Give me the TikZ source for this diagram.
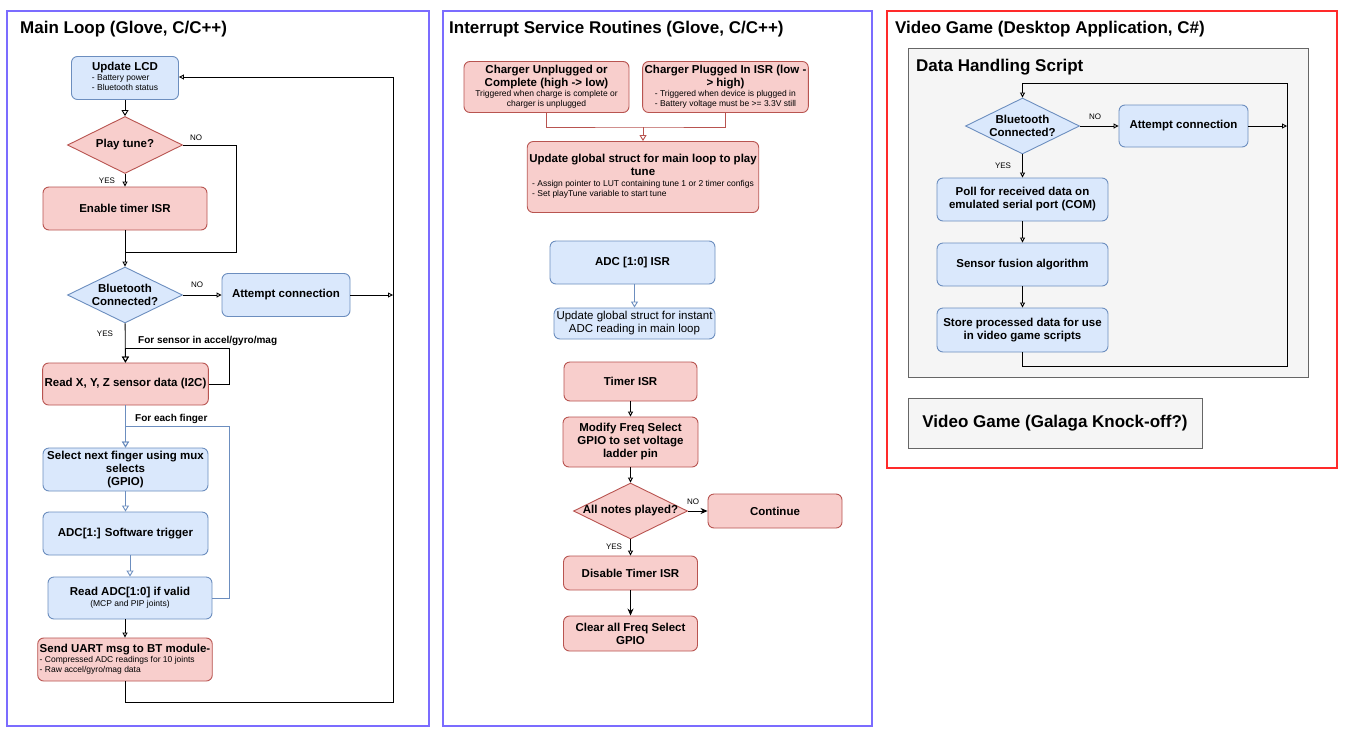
\documentclass[tikz,border=0pt]{standalone}
\usepackage{fontspec}
\setmainfont{Liberation Sans}
\usetikzlibrary{shapes.geometric, arrows.meta}

\definecolor{bluefill}{HTML}{DAE8FC}
\definecolor{blueline}{HTML}{6C8EBF}
\definecolor{redfill}{HTML}{F8CECC}
\definecolor{redline}{HTML}{B85450}
\definecolor{greyfill}{HTML}{F5F5F5}
\definecolor{greyline}{HTML}{666666}
\definecolor{framepurple}{HTML}{7B6CFF}
\definecolor{framered}{HTML}{FF2A2A}

\newcommand{\labfont}{\fontsize{11.5}{13}\selectfont\bfseries}
\newcommand{\notefont}{\fontsize{8.5}{10}\selectfont\mdseries}
\newcommand{\headfont}{\fontsize{17}{20}\selectfont\bfseries}
\newcommand{\yesnofont}{\fontsize{8}{9}\selectfont}
\newcommand{\sublist}[2][l]{{\notefont\begin{tabular}[t]{@{}#1@{}}#2\end{tabular}}}

\begin{document}
\begin{tikzpicture}[x=1pt, y=-1pt,
		flowbox/.style={draw, rounded corners=6pt, line width=0.9pt, inner sep=2pt, align=center, font=\labfont},
		bluebox/.style={flowbox, draw=blueline, fill=bluefill},
		redbox/.style={flowbox, draw=redline, fill=redfill},
		greybox/.style={draw=greyline, fill=greyfill, line width=0.9pt},
		decide/.style={diamond, draw, line width=0.9pt, aspect=2, inner sep=-2pt, align=center, font=\labfont},
		panel/.style={line width=1.2pt},
		heading/.style={anchor=west, inner sep=0pt, font=\headfont},
		yesno/.style={inner sep=0pt, font=\yesnofont},
		looptext/.style={anchor=west, inner sep=0pt, font=\fontsize{10}{12}\selectfont\bfseries},
		wire/.style={draw=black, line width=0.9pt},
		arr/.style={wire, -{Triangle[open, length=6pt, width=7pt]}},
		arrs/.style={wire, -{Triangle[open, length=5pt, width=5pt]}},
		farr/.style={wire, -{Stealth[length=7pt, width=6pt]}},
		barr/.style={arr, draw=blueline},
		rarr/.style={arr, draw=redline}]

	\useasboundingbox (0,0) rectangle (1351,734);
	\fill[white] (0,0) rectangle (1351,734);

	% three panels
	\draw[panel, draw=framepurple] (7,11) rectangle (429,726);
	\draw[panel, draw=framepurple] (443,11) rectangle (872,726);
	\draw[panel, draw=framered] (887,11) rectangle (1337,468);
	\node[heading] (mainhead) at (20,29) {Main Loop (Glove, C/C++)};
	\node[heading] (isrhead) at (449,29) {Interrupt Service Routines (Glove, C/C++)};
	\node[heading] (gamehead) at (895,29) {Video Game (Desktop Application, C\#)};

	% main loop
	\node[bluebox, minimum width=107, minimum height=43] (lcd) at (125,78) {Update LCD\\[-3pt]\sublist{- Battery power\\- Bluetooth status}};
	\node[decide, draw=redline, fill=redfill, minimum width=115, minimum height=57] (tune) at (125,145) {Play tune?};
	\node[redbox, minimum width=164, minimum height=43] (timer) at (125,208.5) {Enable timer ISR};
	\node[decide, draw=blueline, fill=bluefill, minimum width=115, minimum height=56] (bt) at (125,295) {Bluetooth\\Connected?};
	\node[bluebox, minimum width=128, minimum height=43] (attempt) at (286,295) {Attempt connection};
	\node[redbox, minimum width=165, minimum height=42] (xyz) at (125.5,384) {Read X, Y, Z sensor data (I2C)};
	\node[bluebox, minimum width=165, minimum height=43] (finger) at (125.5,469.5) {Select next finger using mux\\selects\\(GPIO)};
	\node[bluebox, minimum width=165, minimum height=43] (trig) at (125.5,533.5) {ADC[1:] Software trigger};
	\node[bluebox, minimum width=164, minimum height=42] (radc) at (130,598) {Read ADC[1:0] if valid\\[-2pt]\sublist[c]{(MCP and PIP joints)}};
	\node[redbox, minimum width=172, minimum height=43, align=left] (uart) at (125,659.5) {Send UART msg to BT module-\\[-3pt]\sublist{- Compressed ADC readings for 10 joints\\- Raw accel/gyro/mag data}};

	\node[yesno] (tuneno) at (196,138) {NO};
	\node[yesno] (tuneyes) at (107,181) {YES};
	\node[yesno] (btno) at (197,285) {NO};
	\node[yesno] (btyes) at (105,334) {YES};
	\node[looptext] (sensortext) at (138,341) {For sensor in accel/gyro/mag};
	\node[looptext] (fingertext) at (135,419) {For each finger};

	\coordinate (tunejoin) at (236,252);
	\coordinate (mainrail) at (393,295);
	\coordinate (mainbot) at (393,702);
	\coordinate (maintop) at (393,77);
	\coordinate (sensorc) at (229,348);
	\coordinate (fingerc) at (229,426);

	\foreach \a/\b in {lcd/tune, bt/xyz} \draw[arr] (\a) -- (\b);
	\foreach \a/\b in {tune/timer, timer/bt} \draw[arrs] (\a) -- (\b);
	\draw[wire] (tune.east) -| (tunejoin) -- (tunejoin -| timer.south); % no tune
	\draw[arrs] (bt) -- (attempt);
	\draw[arrs] (attempt) -- (mainrail);
	\draw[arrs] (uart.south) |- (mainbot) -- (maintop) -- (maintop -| lcd.east); % back to top
	\draw[arr] (xyz.east) -| (sensorc) -| (xyz.north);
	\draw[barr] (xyz) -- (finger);
	\draw[barr] (radc.east) -| (fingerc) -| (finger.north);
	\draw[barr] (finger) -- (trig);
	\draw[barr] (trig.south -| radc.north) -- (radc.north);
	\draw[arrs] (radc.south -| uart.north) -- (uart.north);

	% interrupts
	\node[redbox, minimum width=165, minimum height=51] (unpl) at (546.5,87) {Charger Unplugged or\\Complete (high -> low)\\[-3pt]\sublist[c]{Triggered when charge is complete or\\charger is unplugged}};
	\node[redbox, minimum width=165, minimum height=51] (plug) at (725.5,87) {Charger Plugged In ISR (low -\\> high)\\[-3pt]\sublist{- Triggered when device is plugged in\\- Battery voltage must be >= 3.3V still}};
	\node[redbox, minimum width=230, minimum height=71] (glob) at (643,177) {Update global struct for main loop to play\\tune\\[-2pt]\sublist{- Assign pointer to LUT containing tune 1 or 2 timer configs\\- Set playTune variable to start tune}};
	\node[bluebox, minimum width=165, minimum height=43] (adcisr) at (632.5,262.5) {ADC [1:0] ISR};
	\node[bluebox, minimum width=161, minimum height=31, font=\fontsize{11.5}{13}\selectfont] (adcupd) at (634.5,323.5) {Update global struct for instant\\ADC reading in main loop};
	\node[redbox, minimum width=133, minimum height=39] (timisr) at (630.5,381.5) {Timer ISR};
	\node[redbox, minimum width=135, minimum height=50] (modf) at (630.5,442) {Modify Freq Select\\GPIO to set voltage\\ladder pin};
	\node[decide, draw=redline, fill=redfill, minimum width=114, minimum height=56] (notes) at (630.5,511) {All notes played?};
	\node[redbox, minimum width=134, minimum height=34] (cont) at (775,511) {Continue};
	\node[redbox, minimum width=134, minimum height=34] (dis) at (630.5,573) {Disable Timer ISR};
	\node[redbox, minimum width=134, minimum height=35] (clr) at (630.5,633.5) {Clear all Freq Select\\GPIO};

	\node[yesno] (notesno) at (693,502) {NO};
	\node[yesno] (notesyes) at (614,547) {YES};

	\coordinate (isrjoin) at (643,127);
	\draw[wire, draw=redline] (unpl.south) |- (isrjoin) -| (plug.south);
	\draw[rarr] (isrjoin) -- (glob.north);
	\draw[barr] (adcupd.north |- adcisr.south) -- (adcupd.north);
	\foreach \a/\b in {timisr/modf, modf/notes, notes/dis} \draw[arrs] (\a) -- (\b);
	\draw[farr] (notes) -- (cont);
	\draw[farr] (dis) -- (clr);

	% video game
	\node[greybox, minimum width=400, minimum height=329] (dhs) at (1108,212.5) {};
	\node[heading] (dhshead) at (916,67) {Data Handling Script};
	\node[decide, draw=blueline, fill=bluefill, minimum width=114, minimum height=56] (rbt) at (1022.5,126) {Bluetooth\\Connected?};
	\node[bluebox, minimum width=129, minimum height=42] (ratt) at (1183.5,126) {Attempt connection};
	\node[bluebox, minimum width=171, minimum height=43] (poll) at (1022.5,199.5) {Poll for received data on\\emulated serial port (COM)};
	\node[bluebox, minimum width=171, minimum height=43] (fus) at (1022.5,264.5) {Sensor fusion algorithm};
	\node[bluebox, minimum width=171, minimum height=44] (store) at (1022.5,330) {Store processed data for use\\in video game scripts};
	\node[greybox, font=\headfont, minimum width=294, minimum height=50] (galaga) at (1055,423) {Video Game (Galaga Knock-off?)};

	\node[yesno] (rbtno) at (1095,117) {NO};
	\node[yesno] (rbtyes) at (1003,166) {YES};

	\coordinate (rrail) at (1287,126);
	\coordinate (rbot) at (1287,366);
	\coordinate (rtop) at (1287,83);
	\draw[arrs] (rbt) -- (ratt);
	\draw[arrs] (ratt) -- (rrail);
	\draw[arrs] (store.south) |- (rbot) -- (rtop) -| (rbt.north);
	\foreach \a/\b in {rbt/poll, poll/fus, fus/store} \draw[arrs] (\a) -- (\b);
\end{tikzpicture}
\end{document}
